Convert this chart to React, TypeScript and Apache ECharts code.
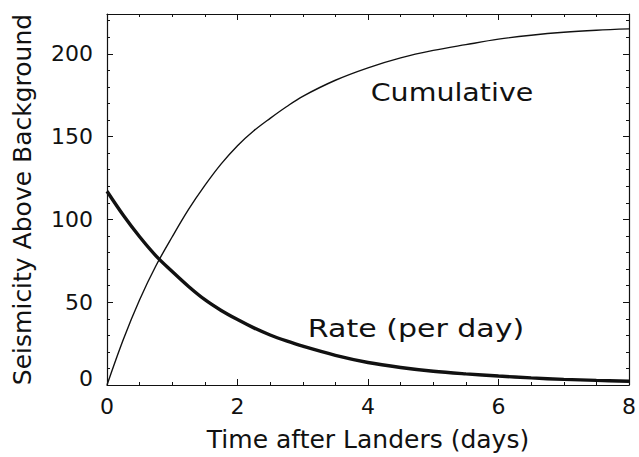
import React, { useEffect, useRef } from "react";
import * as echarts from "echarts";

const days = [0, 0.25, 0.5, 0.75, 1, 1.25, 1.5, 1.75, 2, 2.25, 2.5, 2.75, 3, 3.5, 4, 4.5, 5, 5.5, 6, 6.5, 7, 7.5, 8];
const rateValues = [117, 102.5, 89.5, 78, 68.5, 59.5, 51.5, 45, 39.5, 34.5, 30.2, 26.6, 23.4, 17.9, 13.6, 10.6, 8.3, 6.7, 5.4, 4.3, 3.4, 2.8, 2.3];
const cumulativeValues = [0, 27.5, 51.5, 72, 89.5, 106, 120.5, 133.5, 144.5, 153.5, 161, 168, 174.3, 184, 191.5, 197.5, 202, 205.5, 208.8, 211.2, 213, 214.2, 215];
const xTicks = [0, 2, 4, 6, 8];
const yTicks = [0, 50, 100, 150, 200];
const xTitle = "Time after Landers (days)";
const yTitle = "Seismicity Above Background";
const cumulativeLabel = "Cumulative";
const rateLabel = "Rate (per day)";

const FONT = "DejaVu Sans";
const INK = "#111";

export default function App() {
  const ref = useRef<HTMLDivElement>(null);
  useEffect(() => {
    if (!ref.current) return;
    const chart = echarts.init(ref.current, undefined, { renderer: "svg" });
    const xMin = xTicks[0];
    const xMax = xTicks[xTicks.length - 1];
    const baseX = {
      type: "value",
      min: xMin,
      max: xMax,
      interval: 2,
      axisLine: { show: true, onZero: false, lineStyle: { color: INK, width: 1.2 } },
      axisTick: { show: true, inside: true, length: 6, lineStyle: { color: INK } },
      minorTick: { show: true, splitNumber: 4, length: 3, lineStyle: { color: INK } },
      splitLine: { show: false },
    };
    const baseY = {
      type: "value",
      min: 0,
      max: 224,
      interval: 50,
      axisLine: { show: true, onZero: false, lineStyle: { color: INK, width: 1.2 } },
      axisTick: { show: true, inside: true, length: 6, lineStyle: { color: INK } },
      minorTick: { show: true, splitNumber: 5, length: 3, lineStyle: { color: INK } },
      splitLine: { show: false },
    };
    chart.setOption({
      animation: false,
      backgroundColor: "#fff",
      grid: { left: 107, right: 6, top: 14, bottom: 70 },
      xAxis: [
        {
          ...baseX,
          position: "bottom",
          name: xTitle,
          nameLocation: "middle",
          nameGap: 42,
          nameTextStyle: { fontFamily: FONT, fontSize: 25, color: INK },
          axisLabel: {
            show: true,
            margin: 10,
            fontFamily: FONT,
            fontSize: 22,
            color: INK,
            formatter: (v: number) => (xTicks.includes(v) ? String(v) : ""),
          },
        },
        { ...baseX, position: "top", axisLabel: { show: false } },
      ],
      yAxis: [
        {
          ...baseY,
          position: "left",
          name: yTitle,
          nameLocation: "middle",
          nameGap: 72,
          nameTextStyle: { fontFamily: FONT, fontSize: 25, color: INK },
          axisLabel: {
            show: true,
            margin: 14,
            fontFamily: FONT,
            fontSize: 22,
            color: INK,
            formatter: (v: number) => (yTicks.includes(v) ? (v === 0 ? "{z|0}" : String(v)) : ""),
            rich: { z: { fontFamily: FONT, fontSize: 22, color: INK, padding: [0, 0, 14, 0] } },
          },
        },
        { ...baseY, position: "right", axisLabel: { show: false } },
      ],
      series: [
        {
          type: "line",
          name: cumulativeLabel,
          data: days.map((d, i) => [d, cumulativeValues[i]]),
          smooth: 0.35,
          showSymbol: false,
          lineStyle: { color: INK, width: 1.4 },
        },
        {
          type: "line",
          name: rateLabel,
          data: days.map((d, i) => [d, rateValues[i]]),
          smooth: 0.35,
          showSymbol: false,
          lineStyle: { color: INK, width: 3.4 },
        },
      ],
      graphic: [
        {
          type: "text",
          x: 452,
          y: 92,
          scaleX: 1.14,
          style: {
            text: cumulativeLabel,
            fontFamily: FONT,
            fontSize: 25,
            fill: INK,
            align: "center",
            verticalAlign: "middle",
          },
        },
        {
          type: "text",
          x: 416,
          y: 328,
          scaleX: 1.2,
          style: {
            text: rateLabel,
            fontFamily: FONT,
            fontSize: 25,
            fill: INK,
            align: "center",
            verticalAlign: "middle",
          },
        },
      ],
    });
    return () => chart.dispose();
  }, []);
  return (
    <div
      ref={ref}
      style={{ position: "fixed", left: 0, top: 0, width: 639, height: 457, background: "#fff" }}
    />
  );
}
